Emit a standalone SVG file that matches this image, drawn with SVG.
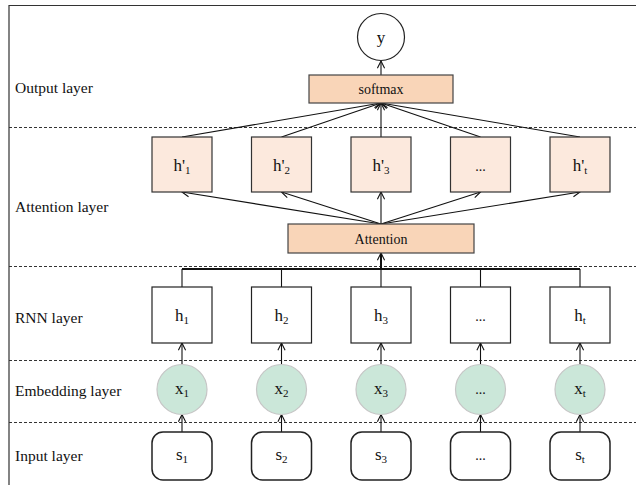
<svg xmlns="http://www.w3.org/2000/svg" width="636" height="485" viewBox="0 0 636 485">
  <style>
    .frame { stroke: #333; stroke-width: 1.2; fill: none; }
    .sep { stroke: #333; stroke-width: 1; stroke-dasharray: 3 2; fill: none; }
    .lbl { font-family: "Liberation Serif", "Times New Roman", serif; font-size: 15.5px; fill: #111; }
    .nt { font-family: "Liberation Serif", "Times New Roman", serif; font-size: 17px; fill: #111; text-anchor: middle; }
    .sub { font-size: 11px; }
    .small { font-family: "Liberation Serif", "Times New Roman", serif; font-size: 14px; fill: #111; text-anchor: middle; }
    .peach { fill: #f9d5b8; stroke: #444; stroke-width: 1.2; }
    .lpeach { fill: #fce9dd; stroke: #333; stroke-width: 1.2; }
    .hbox { fill: #fff; stroke: #222; stroke-width: 1.2; }
    .emb { fill: #cbe7d9; stroke: #c6c6c6; stroke-width: 1.2; }
    .inp { fill: #fff; stroke: #222; stroke-width: 1.5; }
    .outc { fill: #fff; stroke: #222; stroke-width: 1.2; }
    .wire { stroke: #111; stroke-width: 1.1; fill: none; }
    .arr { stroke: #111; stroke-width: 1.1; fill: none; marker-end: url(#chev); }
    .bus { stroke: #111; stroke-width: 2; fill: none; }
  </style>
  <defs>
    <marker id="chev" viewBox="0 0 10 10" refX="9" refY="5" markerWidth="9" markerHeight="9" markerUnits="userSpaceOnUse" orient="auto">
      <path d="M1,1 L9,5 L1,9" fill="none" stroke="#111" stroke-width="1.2"/>
    </marker>
  </defs>

  <!-- frame: top and left edges only -->
  <g id="frame">
    <path class="frame" d="M9,485 V5.5 H636"/>
  </g>

  <!-- layer separators -->
  <g id="separators">
    <line class="sep" x1="9" y1="127.5" x2="636" y2="127.5"/>
    <line class="sep" x1="9" y1="266.5" x2="636" y2="266.5"/>
    <line class="sep" x1="9" y1="360.5" x2="636" y2="360.5"/>
    <line class="sep" x1="9" y1="422.5" x2="636" y2="422.5"/>
  </g>

  <!-- layer names -->
  <g id="layer-labels">
    <text class="lbl" x="15" y="92.5">Output layer</text>
    <text class="lbl" x="15" y="211.5">Attention layer</text>
    <text class="lbl" x="15" y="323">RNN layer</text>
    <text class="lbl" x="15" y="396">Embedding layer</text>
    <text class="lbl" x="15" y="461">Input layer</text>
  </g>

  <!-- connectors -->
  <g id="connectors">
    <!-- softmax to y -->
    <line class="arr" x1="381" y1="75" x2="381" y2="61"/>
    <!-- h' to softmax -->
    <line class="arr" x1="182" y1="137" x2="381" y2="103"/>
    <line class="arr" x1="281.5" y1="137" x2="381" y2="103"/>
    <line class="arr" x1="381" y1="137" x2="381" y2="103"/>
    <line class="arr" x1="480.5" y1="137" x2="381" y2="103"/>
    <line class="arr" x1="580" y1="137" x2="381" y2="103"/>
    <!-- attention to h' -->
    <line class="arr" x1="381" y1="224" x2="182" y2="192"/>
    <line class="arr" x1="381" y1="224" x2="281.5" y2="192"/>
    <line class="arr" x1="381" y1="224" x2="381" y2="192"/>
    <line class="arr" x1="381" y1="224" x2="480.5" y2="192"/>
    <line class="arr" x1="381" y1="224" x2="580" y2="192"/>
    <!-- bus from hidden states to attention -->
    <line class="bus" x1="182" y1="269" x2="580" y2="269"/>
    <line class="bus" x1="381" y1="269" x2="381" y2="255"/>
    <line class="arr" x1="381" y1="262" x2="381" y2="253"/>
    <line class="wire" x1="182" y1="269" x2="182" y2="287"/>
    <line class="wire" x1="281.5" y1="269" x2="281.5" y2="287"/>
    <line class="wire" x1="381" y1="269" x2="381" y2="287"/>
    <line class="wire" x1="480.5" y1="269" x2="480.5" y2="287"/>
    <line class="wire" x1="580" y1="269" x2="580" y2="287"/>
    <!-- embeddings to RNN -->
    <line class="arr" x1="182" y1="364" x2="182" y2="343"/>
    <line class="arr" x1="281.5" y1="364" x2="281.5" y2="343"/>
    <line class="arr" x1="381" y1="364" x2="381" y2="343"/>
    <line class="arr" x1="480.5" y1="364" x2="480.5" y2="343"/>
    <line class="arr" x1="580" y1="364" x2="580" y2="343"/>
    <!-- inputs to embeddings -->
    <line class="arr" x1="182" y1="432" x2="182" y2="414.5"/>
    <line class="arr" x1="281.5" y1="432" x2="281.5" y2="414.5"/>
    <line class="arr" x1="381" y1="432" x2="381" y2="414.5"/>
    <line class="arr" x1="480.5" y1="432" x2="480.5" y2="414.5"/>
    <line class="arr" x1="580" y1="432" x2="580" y2="414.5"/>
  </g>

  <!-- output -->
  <g id="y">
    <circle class="outc" cx="381" cy="37" r="23.5"/>
    <text class="nt" x="381" y="43">y</text>
  </g>
  <g id="softmax">
    <rect class="peach" x="309" y="75" width="144" height="28"/>
    <text class="small" x="381" y="94">softmax</text>
  </g>

  <!-- attention layer -->
  <g id="hp1">
    <rect class="lpeach" x="152" y="137" width="60" height="55"/>
    <text class="nt" x="182" y="171">h'<tspan class="sub" dy="3">1</tspan></text>
  </g>
  <g id="hp2">
    <rect class="lpeach" x="251.5" y="137" width="60" height="55"/>
    <text class="nt" x="281.5" y="171">h'<tspan class="sub" dy="3">2</tspan></text>
  </g>
  <g id="hp3">
    <rect class="lpeach" x="351" y="137" width="60" height="55"/>
    <text class="nt" x="381" y="171">h'<tspan class="sub" dy="3">3</tspan></text>
  </g>
  <g id="hp4">
    <rect class="lpeach" x="450.5" y="137" width="60" height="55"/>
    <text class="small" x="480.5" y="171">...</text>
  </g>
  <g id="hpt">
    <rect class="lpeach" x="550" y="137" width="60" height="55"/>
    <text class="nt" x="580" y="171">h'<tspan class="sub" dy="3">t</tspan></text>
  </g>
  <g id="attention">
    <rect class="peach" x="288" y="224" width="186" height="29"/>
    <text class="small" x="381" y="243.5">Attention</text>
  </g>

  <!-- RNN layer -->
  <g id="h1">
    <rect class="hbox" x="152" y="287" width="60" height="56"/>
    <text class="nt" x="182" y="321">h<tspan class="sub" dy="3">1</tspan></text>
  </g>
  <g id="h2">
    <rect class="hbox" x="251.5" y="287" width="60" height="56"/>
    <text class="nt" x="281.5" y="321">h<tspan class="sub" dy="3">2</tspan></text>
  </g>
  <g id="h3">
    <rect class="hbox" x="351" y="287" width="60" height="56"/>
    <text class="nt" x="381" y="321">h<tspan class="sub" dy="3">3</tspan></text>
  </g>
  <g id="h4">
    <rect class="hbox" x="450.5" y="287" width="60" height="56"/>
    <text class="small" x="480.5" y="321">...</text>
  </g>
  <g id="ht">
    <rect class="hbox" x="550" y="287" width="60" height="56"/>
    <text class="nt" x="580" y="321">h<tspan class="sub" dy="3">t</tspan></text>
  </g>

  <!-- embedding layer -->
  <g id="x1">
    <circle class="emb" cx="182" cy="389.5" r="25"/>
    <text class="nt" x="182" y="394">x<tspan class="sub" dy="3">1</tspan></text>
  </g>
  <g id="x2">
    <circle class="emb" cx="281.5" cy="389.5" r="25"/>
    <text class="nt" x="281.5" y="394">x<tspan class="sub" dy="3">2</tspan></text>
  </g>
  <g id="x3">
    <circle class="emb" cx="381" cy="389.5" r="25"/>
    <text class="nt" x="381" y="394">x<tspan class="sub" dy="3">3</tspan></text>
  </g>
  <g id="x4">
    <circle class="emb" cx="480.5" cy="389.5" r="25"/>
    <text class="small" x="480.5" y="394">...</text>
  </g>
  <g id="xt">
    <circle class="emb" cx="580" cy="389.5" r="25"/>
    <text class="nt" x="580" y="394">x<tspan class="sub" dy="3">t</tspan></text>
  </g>

  <!-- input layer -->
  <g id="s1">
    <rect class="inp" x="152" y="432" width="60" height="48" rx="11"/>
    <text class="nt" x="182" y="460">s<tspan class="sub" dy="3">1</tspan></text>
  </g>
  <g id="s2">
    <rect class="inp" x="251.5" y="432" width="60" height="48" rx="11"/>
    <text class="nt" x="281.5" y="460">s<tspan class="sub" dy="3">2</tspan></text>
  </g>
  <g id="s3">
    <rect class="inp" x="351" y="432" width="60" height="48" rx="11"/>
    <text class="nt" x="381" y="460">s<tspan class="sub" dy="3">3</tspan></text>
  </g>
  <g id="s4">
    <rect class="inp" x="450.5" y="432" width="60" height="48" rx="11"/>
    <text class="small" x="480.5" y="460">...</text>
  </g>
  <g id="st">
    <rect class="inp" x="550" y="432" width="60" height="48" rx="11"/>
    <text class="nt" x="580" y="460">s<tspan class="sub" dy="3">t</tspan></text>
  </g>
</svg>
